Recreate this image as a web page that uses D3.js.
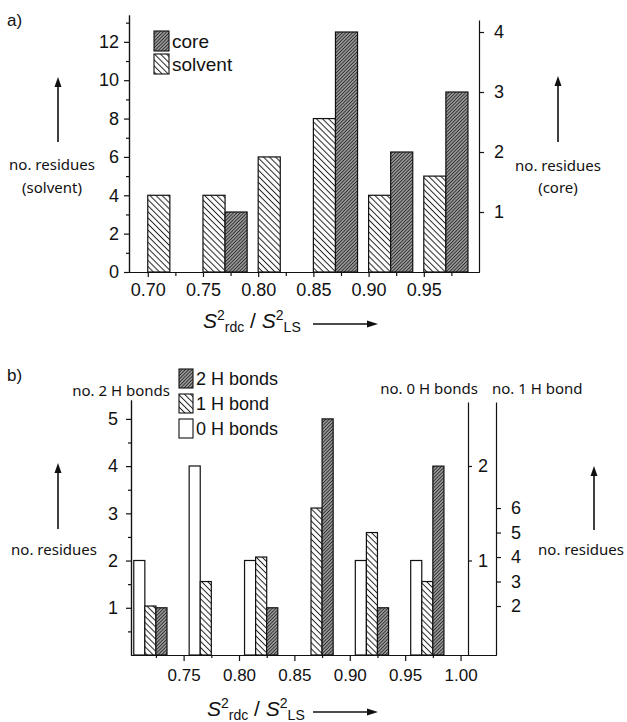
<!DOCTYPE html>
<html>
<head>
<meta charset="utf-8">
<script src="https://cdn.jsdelivr.net/npm/d3@7"></script>
<style>
  body { margin: 0; background: #fff; }
  svg text { fill: #111; }
</style>
</head>
<body>
<div id="chart"></div>
<script>
// panel a: histogram of S2rdc/S2LS, solvent vs core
const binsA = [0.70, 0.75, 0.80, 0.85, 0.90, 0.95];
const solvent = [4, 4, 6, 8, 4, 5];
const core = [0, 1, 0, 4, 2, 3];
const xTicksA = [0.70, 0.75, 0.80, 0.85, 0.90, 0.95];
const yTicksSolvent = [0, 2, 4, 6, 8, 10, 12];
const yTicksCore = [1, 2, 3, 4];

// panel b: by number of H bonds
const binsB = [0.70, 0.75, 0.80, 0.85, 0.90, 0.95];
const hb0 = [1, 2, 1, 0, 1, 1];
const hb1 = [2, 3, 4, 6, 5, 3];
const hb2 = [1, 0, 1, 5, 1, 4];
const xTicksB = [0.75, 0.80, 0.85, 0.90, 0.95, 1.00];
const yTicks2H = [1, 2, 3, 4, 5];
const yTicks0H = [1, 2];
const yTicks1H = [2, 3, 4, 5, 6];

const W = 627, H = 722;
const TICK_FONT = "'Liberation Sans', Arial, sans-serif";
const LABEL_FONT = "'Noto Sans', 'Open Sans', sans-serif";
const intFmt = d3.format("d");

const svg = d3.select("#chart").append("svg")
    .attr("width", W).attr("height", H);

// hatch patterns
const defs = svg.append("defs");
function hatch(id, size, angle, bg, stroke, sw) {
    const p = defs.append("pattern")
        .attr("id", id)
        .attr("patternUnits", "userSpaceOnUse")
        .attr("width", size).attr("height", size)
        .attr("patternTransform", "rotate(" + angle + ")");
    p.append("rect").attr("width", size).attr("height", size).attr("fill", bg);
    p.append("line")
        .attr("x1", size / 2).attr("x2", size / 2)
        .attr("y1", 0).attr("y2", size)
        .attr("stroke", stroke).attr("stroke-width", sw);
}
hatch("sparse", 4.3, -45, "#fff", "#222", 1);
hatch("dense", 2.4, 45, "#b8b8b8", "#2a2a2a", 1.2);

function axisStyle(g, fs) {
    g.selectAll("path, line").attr("stroke", "#111").attr("stroke-width", 1.2);
    g.selectAll("text").attr("font-family", TICK_FONT).attr("font-size", fs).attr("fill", "#111");
}

function arrowUp(x, y1, y2) {
    svg.append("line").attr("x1", x).attr("x2", x).attr("y1", y1).attr("y2", y2 + 8)
        .attr("stroke", "#111").attr("stroke-width", 1.6);
    svg.append("path")
        .attr("d", `M${x - 3.5},${y2 + 10} L${x},${y2} L${x + 3.5},${y2 + 10} Z`)
        .attr("fill", "#111");
}

function xTitle(x, y, ax) {
    const t = svg.append("text").attr("x", x).attr("y", y)
        .attr("font-family", TICK_FONT).attr("font-size", 21);
    t.append("tspan").attr("font-style", "italic").text("S");
    t.append("tspan").attr("font-size", 14).attr("dy", -8).text("2");
    t.append("tspan").attr("font-size", 14).attr("dy", 12).text("rdc");
    t.append("tspan").attr("dy", -4).text(" / ");
    t.append("tspan").attr("font-style", "italic").text("S");
    t.append("tspan").attr("font-size", 14).attr("dy", -8).text("2");
    t.append("tspan").attr("font-size", 14).attr("dy", 12).text("LS");
    svg.append("line").attr("x1", ax).attr("x2", ax + 56).attr("y1", y - 4).attr("y2", y - 4)
        .attr("stroke", "#111").attr("stroke-width", 1.3);
    svg.append("path")
        .attr("d", `M${ax + 54},${y - 7.5} L${ax + 65},${y - 4} L${ax + 54},${y - 0.5} Z`)
        .attr("fill", "#111");
}

function label(x, y, txt, anchor, fs) {
    svg.append("text").attr("x", x).attr("y", y)
        .attr("text-anchor", anchor || "middle")
        .attr("font-family", LABEL_FONT).attr("font-size", fs || 15)
        .text(txt);
}

// ---------------- panel a ----------------
const xA = d3.scaleLinear().domain([0.683, 1.0]).range([129, 479]);
const ySol = d3.scaleLinear().domain([0, 13.4]).range([272, 15]);
const yCore = d3.scaleLinear().domain([0, 4.2]).range([272, 20]);
const bwA = 0.02;

const gA = svg.append("g");
gA.selectAll("rect.sol").data(binsA.map((b, i) => ({ b, v: solvent[i] })).filter(d => d.v > 0))
    .join("rect")
    .attr("x", d => xA(d.b)).attr("width", d => xA(d.b + bwA) - xA(d.b))
    .attr("y", d => ySol(d.v)).attr("height", d => ySol(0) - ySol(d.v))
    .attr("fill", "url(#sparse)").attr("stroke", "#111").attr("stroke-width", 1.2);
gA.selectAll("rect.core").data(binsA.map((b, i) => ({ b, v: core[i] })).filter(d => d.v > 0))
    .join("rect")
    .attr("x", d => xA(d.b + bwA)).attr("width", d => xA(d.b + 2 * bwA) - xA(d.b + bwA))
    .attr("y", d => yCore(d.v)).attr("height", d => yCore(0) - yCore(d.v))
    .attr("fill", "url(#dense)").attr("stroke", "#111").attr("stroke-width", 1.2);

// x axis a
svg.append("g").attr("transform", "translate(0,272)")
    .call(d3.axisBottom(xA).tickValues(xTicksA.map(v => v + 0.025)).tickSize(4).tickFormat("").tickSizeOuter(0))
    .call(g => axisStyle(g, 18));
svg.append("g").attr("transform", "translate(0,272)")
    .call(d3.axisBottom(xA).tickValues(xTicksA).tickSize(5).tickPadding(6).tickFormat(d3.format(".2f")).tickSizeOuter(0))
    .call(g => axisStyle(g, 18));

// left axis a
svg.append("g").attr("transform", "translate(129,0)")
    .call(d3.axisLeft(ySol).tickValues([1, 3, 5, 7, 9, 11, 13]).tickSize(3).tickFormat("").tickSizeOuter(0))
    .call(g => axisStyle(g, 18));
svg.append("g").attr("transform", "translate(129,0)")
    .call(d3.axisLeft(ySol).tickValues(yTicksSolvent).tickSize(5).tickPadding(5).tickFormat(intFmt).tickSizeOuter(0))
    .call(g => axisStyle(g, 18));

// right axis a
svg.append("g").attr("transform", "translate(479,0)")
    .call(d3.axisRight(yCore).tickValues(yTicksCore).tickSize(5).tickPadding(10).tickFormat(intFmt).tickSizeOuter(0))
    .call(g => axisStyle(g, 18));

// legend a
[["core", "url(#dense)", 31], ["solvent", "url(#sparse)", 54]].forEach(([t, f, y]) => {
    svg.append("rect").attr("x", 154).attr("y", y).attr("width", 15).attr("height", 20)
        .attr("fill", f).attr("stroke", "#111").attr("stroke-width", 1.1);
    svg.append("text").attr("x", 172).attr("y", y + 17)
        .attr("font-family", TICK_FONT).attr("font-size", 19).text(t);
});

svg.append("text").attr("x", 7).attr("y", 26).attr("font-family", TICK_FONT).attr("font-size", 17).text("a)");
arrowUp(58, 142, 77);
label(52, 170, "no. residues");
label(52, 193, "(solvent)");
arrowUp(558, 142, 76);
label(558, 171, "no. residues");
label(558, 193, "(core)");
xTitle(203, 328, 313);

// ---------------- panel b ----------------
const xB = d3.scaleLinear().domain([0.7025, 1.032]).range([131, 496]);
const y2H = d3.scaleLinear().domain([0, 5.4]).range([655, 400]);
const y0H = d3.scaleLinear().domain([0, 2.677]).range([655, 402]);
const y1H = d3.scaleLinear().domain([0, 10.33]).range([655, 402]);
const bwB = 0.01;

const seriesB = [
    { vals: hb0, y: y0H, off: 0.005, fill: "#fff" },
    { vals: hb1, y: y1H, off: 0.015, fill: "url(#sparse)" },
    { vals: hb2, y: y2H, off: 0.025, fill: "url(#dense)" }
];
seriesB.forEach(s => {
    svg.append("g").selectAll("rect")
        .data(binsB.map((b, i) => ({ b, v: s.vals[i] })).filter(d => d.v > 0))
        .join("rect")
        .attr("x", d => xB(d.b + s.off)).attr("width", d => xB(d.b + s.off + bwB) - xB(d.b + s.off))
        .attr("y", d => s.y(d.v)).attr("height", d => s.y(0) - s.y(d.v))
        .attr("fill", s.fill).attr("stroke", "#111").attr("stroke-width", 1.2);
});

// x axis b
svg.append("g").attr("transform", "translate(0,655)")
    .call(d3.axisBottom(xB).tickValues([0.725, 0.775, 0.825, 0.875, 0.925, 0.975]).tickSize(3).tickFormat("").tickSizeOuter(0))
    .call(g => axisStyle(g, 17));
svg.append("g").attr("transform", "translate(0,655)")
    .call(d3.axisBottom(xB).tickValues(xTicksB).tickSize(6).tickPadding(8).tickFormat(d3.format(".2f")).tickSizeOuter(0))
    .call(g => axisStyle(g, 17));

// left axis b (2 H bonds)
svg.append("g").attr("transform", "translate(131,0)")
    .call(d3.axisLeft(y2H).tickValues([0.5, 1.5, 2.5, 3.5, 4.5]).tickSize(3).tickFormat("").tickSizeOuter(0))
    .call(g => axisStyle(g, 18));
svg.append("g").attr("transform", "translate(131,0)")
    .call(d3.axisLeft(y2H).tickValues(yTicks2H).tickSize(5).tickPadding(8).tickFormat(intFmt).tickSizeOuter(0))
    .call(g => axisStyle(g, 18));

// right axes b
svg.append("g").attr("transform", "translate(468,0)")
    .call(d3.axisRight(y0H).tickValues(yTicks0H).tickSize(4).tickPadding(6).tickFormat(intFmt).tickSizeOuter(0))
    .call(g => axisStyle(g, 18));
svg.append("g").attr("transform", "translate(496,0)")
    .call(d3.axisRight(y1H).tickValues(yTicks1H).tickSize(5).tickPadding(10).tickFormat(intFmt).tickSizeOuter(0))
    .call(g => axisStyle(g, 18));

// legend b
[["2 H bonds", "url(#dense)", 369], ["1 H bond", "url(#sparse)", 394], ["0 H bonds", "#fff", 419]].forEach(([t, f, y]) => {
    svg.append("rect").attr("x", 179).attr("y", y).attr("width", 14).attr("height", 19)
        .attr("fill", f).attr("stroke", "#111").attr("stroke-width", 1.1);
    svg.append("text").attr("x", 196).attr("y", y + 16)
        .attr("font-family", TICK_FONT).attr("font-size", 18).text(t);
});

svg.append("text").attr("x", 7).attr("y", 381).attr("font-family", TICK_FONT).attr("font-size", 17).text("b)");
label(170, 396, "no. 2 H bonds", "end");
label(478, 394, "no. 0 H bonds", "end");
label(492, 394, "no. 1 H bond", "start");
arrowUp(58, 529, 463);
label(54, 555, "no. residues");
arrowUp(594, 530, 466);
label(581, 555, "no. residues");
xTitle(207, 716, 313);
</script>
</body>
</html>
